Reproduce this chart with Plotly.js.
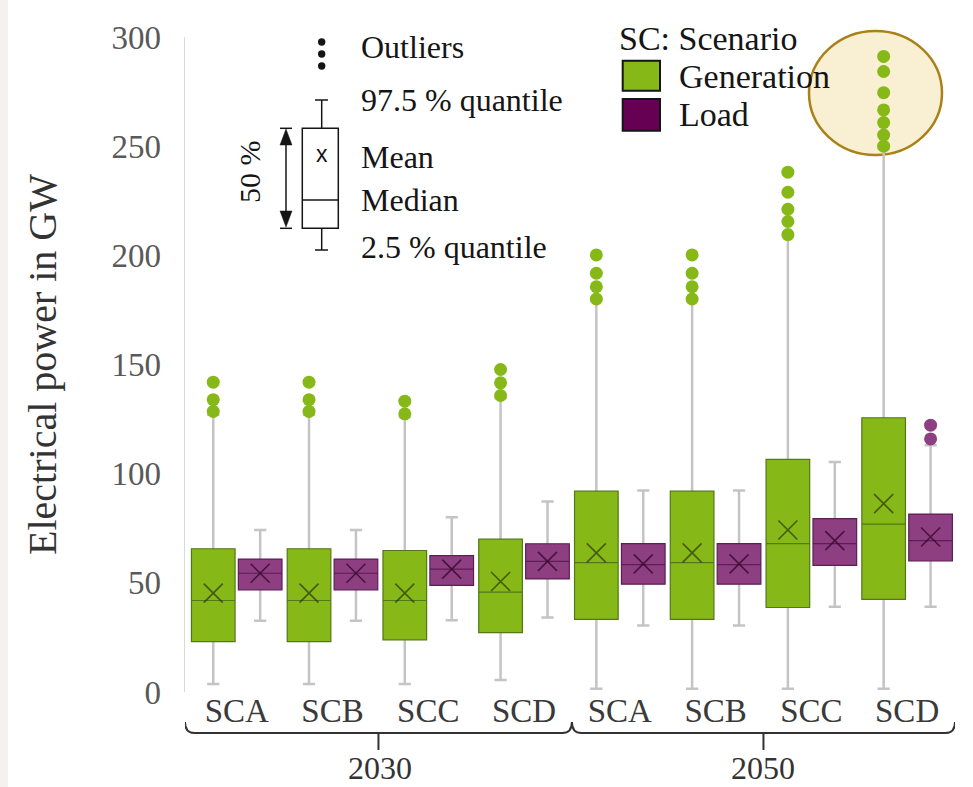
<!DOCTYPE html>
<html>
<head>
<meta charset="utf-8">
<script src="https://cdn.plot.ly/plotly-3.0.1.min.js"></script>
<style>
  html, body { margin: 0; padding: 0; background: #ffffff; }
  #chart { width: 973px; height: 787px; }
</style>
</head>
<body>
<div id="chart"></div>
<script>
// ---------------- data ----------------
const years = ['2030', '2050'];
const scenarios = ['SCA', 'SCB', 'SCC', 'SCD'];

// Generation (GW)
const genLower  = [3.7, 3.7, 3.7, 5.5, 1.5, 1.5, 1.5, 1.5];
const genQ1     = [23.1, 23.1, 23.9, 27.2, 33.3, 33.3, 38.7, 42.4];
const genMedian = [41.9, 41.9, 41.9, 45.7, 59.3, 59.3, 68.0, 76.9];
const genMean   = [45.3, 45.3, 45.3, 50.6, 63.7, 63.7, 74.2, 86.3];
const genQ3     = [65.6, 65.6, 64.8, 70.0, 92.0, 92.0, 106.5, 125.6];
const genUpper  = [127, 127, 126, 134.5, 179, 179, 208.5, 249];
const genOutliers = [
  [128.5, 133.9, 141.9],
  [128.5, 133.9, 141.9],
  [127.4, 133.2],
  [135.8, 141.6, 147.7],
  [180.0, 185.6, 191.8, 200.2],
  [180.0, 185.6, 191.8, 200.2],
  [209.5, 215.5, 221.1, 228.9, 238.1],
  [250.0, 255.1, 260.8, 266.6, 274.5, 284.2, 291.1]
];

// Load (GW)
const loadLower  = [32.6, 32.6, 32.9, 34.1, 30.5, 30.5, 39.0, 39.0];
const loadQ1     = [46.8, 46.8, 48.8, 51.8, 49.4, 49.4, 58.0, 60.0];
const loadMedian = [54.4, 54.4, 56.3, 59.8, 58.3, 58.3, 68.0, 69.3];
const loadMean   = [54.4, 54.4, 56.3, 59.8, 58.7, 58.7, 69.3, 71.0];
const loadQ3     = [60.9, 60.9, 62.5, 67.9, 68.0, 68.0, 79.4, 81.5];
const loadUpper  = [74.2, 74.2, 80.0, 87.3, 92.3, 92.3, 105.4, 113.0];
const loadOutliers = [[], [], [], [], [], [], [], [115.9, 122.2]];

const yTicks = [0, 50, 100, 150, 200, 250, 300];

// ---------------- derived ----------------
const categories = [];
const tickLabels = [];
years.forEach(y => scenarios.forEach(s => { categories.push(y + ' ' + s); tickLabels.push(s); }));

function flatOutliers(list) {
  const xs = [], ys = [];
  list.forEach((vals, i) => vals.forEach(v => { xs.push(categories[i]); ys.push(v); }));
  return {xs, ys};
}
const gOut = flatOutliers(genOutliers);
const lOut = flatOutliers(loadOutliers);

// ---------------- styles ----------------
const GREEN = '#86b817';
const GREEN_LINE = '#55761a';
const PURPLE = 'rgb(141,63,129)';
const PURPLE_LINE = '#5e1d57';
const PURPLE_LEGEND = '#660052';
const WHISKER = '#c4c4c4';
const SERIF = '"Liberation Serif", "Times New Roman", serif';

const L = 185, R = 18, T = 37, B = 95, W = 973, H = 787;
const PW = W - L - R, PH = H - T - B;
const px = v => (v - L) / PW;
const py = v => (H - B - v) / PH;

function whiskerTrace(lower, med, upper, group) {
  return {
    type: 'box', x: categories,
    q1: med, median: med, q3: med,
    lowerfence: lower, upperfence: upper,
    offsetgroup: group,
    line: {color: WHISKER, width: 2.5},
    fillcolor: 'rgba(0,0,0,0)',
    whiskerwidth: 0.28,
    hoverinfo: 'skip', showlegend: false
  };
}
function bodyTrace(q1, med, q3, fill, line, group, name) {
  return {
    type: 'box', x: categories, name: name,
    q1: q1, median: med, q3: q3,
    lowerfence: q1, upperfence: q3,
    offsetgroup: group,
    line: {color: line, width: 1.2},
    fillcolor: fill,
    whiskerwidth: 0,
    showlegend: false
  };
}
function meanTrace(mean, color, group) {
  return {
    type: 'scatter', mode: 'markers', x: categories, y: mean,
    offsetgroup: group, orientation: 'v',
    marker: {symbol: 'x-thin-open', size: 19, color: color, line: {width: 1.6, color: color}},
    hoverinfo: 'skip', showlegend: false
  };
}
function outlierTrace(o, color, group) {
  return {
    type: 'scatter', mode: 'markers', x: o.xs, y: o.ys,
    offsetgroup: group, orientation: 'v',
    marker: {symbol: 'circle', size: 13, color: color, line: {width: 0}},
    showlegend: false
  };
}

const traces = [
  whiskerTrace(genLower, genMedian, genUpper, 'gen'),
  bodyTrace(genQ1, genMedian, genQ3, GREEN, GREEN_LINE, 'gen', 'Generation'),
  whiskerTrace(loadLower, loadMedian, loadUpper, 'load'),
  bodyTrace(loadQ1, loadMedian, loadQ3, PURPLE, PURPLE_LINE, 'load', 'Load'),
  meanTrace(genMean, 'rgba(45,60,10,0.75)', 'gen'),
  meanTrace(loadMean, 'rgba(50,5,40,0.75)', 'load'),
  outlierTrace(gOut, GREEN, 'gen'),
  outlierTrace(lOut, PURPLE, 'load')
];

// ---------------- decorations ----------------
const shapes = [];
const annotations = [];
const INK = '#151515';
function pline(x0, y0, x1, y1, color, width) {
  shapes.push({type: 'line', xref: 'paper', yref: 'paper', x0: px(x0), y0: py(y0), x1: px(x1), y1: py(y1),
    line: {color: color || INK, width: width || 1.5}});
}
function prect(x0, y0, x1, y1, fill, line, width, layer) {
  shapes.push({type: 'rect', xref: 'paper', yref: 'paper', x0: px(x0), y0: py(y0), x1: px(x1), y1: py(y1),
    fillcolor: fill, line: {color: line, width: width}, layer: layer || 'above'});
}
function ppath(pts, fill, layer) {
  const d = pts.map((p, i) => (i ? 'L' : 'M') + px(p[0]) + ',' + py(p[1])).join(' ') + ' Z';
  shapes.push({type: 'path', xref: 'paper', yref: 'paper', path: d, fillcolor: fill, line: {color: fill, width: 0.5}, layer: layer || 'above'});
}
function ptext(text, x, y, size, opts) {
  opts = opts || {};
  annotations.push(Object.assign({
    text: text, xref: 'paper', yref: 'paper', x: px(x), y: py(y),
    xanchor: 'left', yanchor: 'middle', showarrow: false,
    font: {family: SERIF, size: size, color: INK}
  }, opts));
}

// light page strip on the left
prect(0, 0, 8, H, '#f3f2ef', 'rgba(0,0,0,0)', 0, 'below');

// highlight circle
shapes.push({type: 'circle', xref: 'paper', yref: 'paper', layer: 'below',
  x0: px(809), x1: px(942), y0: py(31), y1: py(155),
  fillcolor: '#f9efd3', line: {color: '#a98117', width: 2.5}});

// explanation inset
[42, 54, 66].forEach(y => shapes.push({type: 'circle', xref: 'paper', yref: 'paper',
  x0: px(318), x1: px(325.4), y0: py(y - 3.7), y1: py(y + 3.7), fillcolor: INK, line: {width: 0}}));
pline(315, 100, 328, 100);
pline(321.7, 100, 321.7, 128.3);
prect(302.3, 128.3, 338.3, 228.3, '#ffffff', INK, 1.5);
pline(302.3, 200, 338.3, 200);
pline(321.7, 228.3, 321.7, 250);
pline(315, 250, 328, 250);
pline(280, 128.3, 292, 128.3);
pline(280, 228.3, 292, 228.3);
pline(286, 140, 286, 216);
ppath([[280, 145], [292, 145], [286, 129]], INK);
ppath([[280, 211], [292, 211], [286, 227]], INK);
ptext('x', 321.7, 154, 23, {xanchor: 'center', font: {family: '"Liberation Sans", Arial, sans-serif', size: 23, color: INK}});
ptext('50 %', 249, 172, 30, {xanchor: 'center', textangle: -90});
ptext('Outliers', 359, 46.7, 32);
ptext('97.5 % quantile', 359, 100, 32);
ptext('Mean', 359, 156.7, 32);
ptext('Median', 359, 200, 32);
ptext('2.5 % quantile', 359, 246.7, 32);

// legend
ptext('SC: Scenario', 617, 38.3, 34);
prect(622.7, 60.7, 660, 90.7, GREEN, INK, 2);
prect(622.7, 99, 660, 130.7, PURPLE_LEGEND, INK, 2);
ptext('Generation', 677, 76.7, 34);
ptext('Load', 677, 115, 34);

// year brackets under the scenario labels
function bracket(i0, i1) {
  const xa = i0, xb = i1, xm = (i0 + i1) / 2;
  const yb = py(733), yt = py(722), ytick = py(750);
  shapes.push({type: 'path', xref: 'x', yref: 'paper',
    path: `M${xa},${yt} Q${xa},${yb} ${xa + 0.1},${yb} L${xb - 0.1},${yb} Q${xb},${yb} ${xb},${yt}`,
    line: {color: '#333333', width: 2}});
  shapes.push({type: 'line', xref: 'x', yref: 'paper', x0: xm, x1: xm, y0: yb, y1: ytick,
    line: {color: '#333333', width: 2}});
}
bracket(-0.54, 3.5);
bracket(3.5, 7.5);
years.forEach((y, k) => annotations.push({
  text: y, xref: 'x', yref: 'paper', x: 1.5 + 4 * k, y: py(768),
  xanchor: 'center', yanchor: 'middle', showarrow: false, borderpad: 0,
  font: {family: SERIF, size: 32, color: '#333333'}
}));

const layout = {
  width: W, height: H,
  margin: {l: L, r: R, t: T, b: B, pad: 0},
  paper_bgcolor: '#ffffff', plot_bgcolor: 'rgba(0,0,0,0)',
  boxmode: 'group', boxgap: 0.02, boxgroupgap: 0.07,
  scattermode: 'group', scattergap: 0.02,
  showlegend: false,
  xaxis: {
    type: 'category', categoryorder: 'array', categoryarray: categories,
    tickvals: categories, ticktext: tickLabels,
    range: [-0.54, 7.5],
    showline: false, showgrid: false, zeroline: false, ticks: '',
    tickfont: {family: SERIF, size: 33, color: '#3a3a3a'},
    ticklabelstandoff: -4
  },
  yaxis: {
    range: [0, 300], tickvals: yTicks,
    showline: true, linecolor: '#d9d9d9', linewidth: 1.5,
    showgrid: false, zeroline: false, ticks: '',
    tickfont: {family: SERIF, size: 33, color: '#595959'},
    ticklabelstandoff: 16,
    title: {text: 'Electrical power in GW', font: {family: SERIF, size: 40, color: '#333333'}, standoff: 42}
  },
  shapes: shapes,
  annotations: annotations
};

Plotly.newPlot('chart', traces, layout, {staticPlot: true, displayModeBar: false});
</script>
</body>
</html>
